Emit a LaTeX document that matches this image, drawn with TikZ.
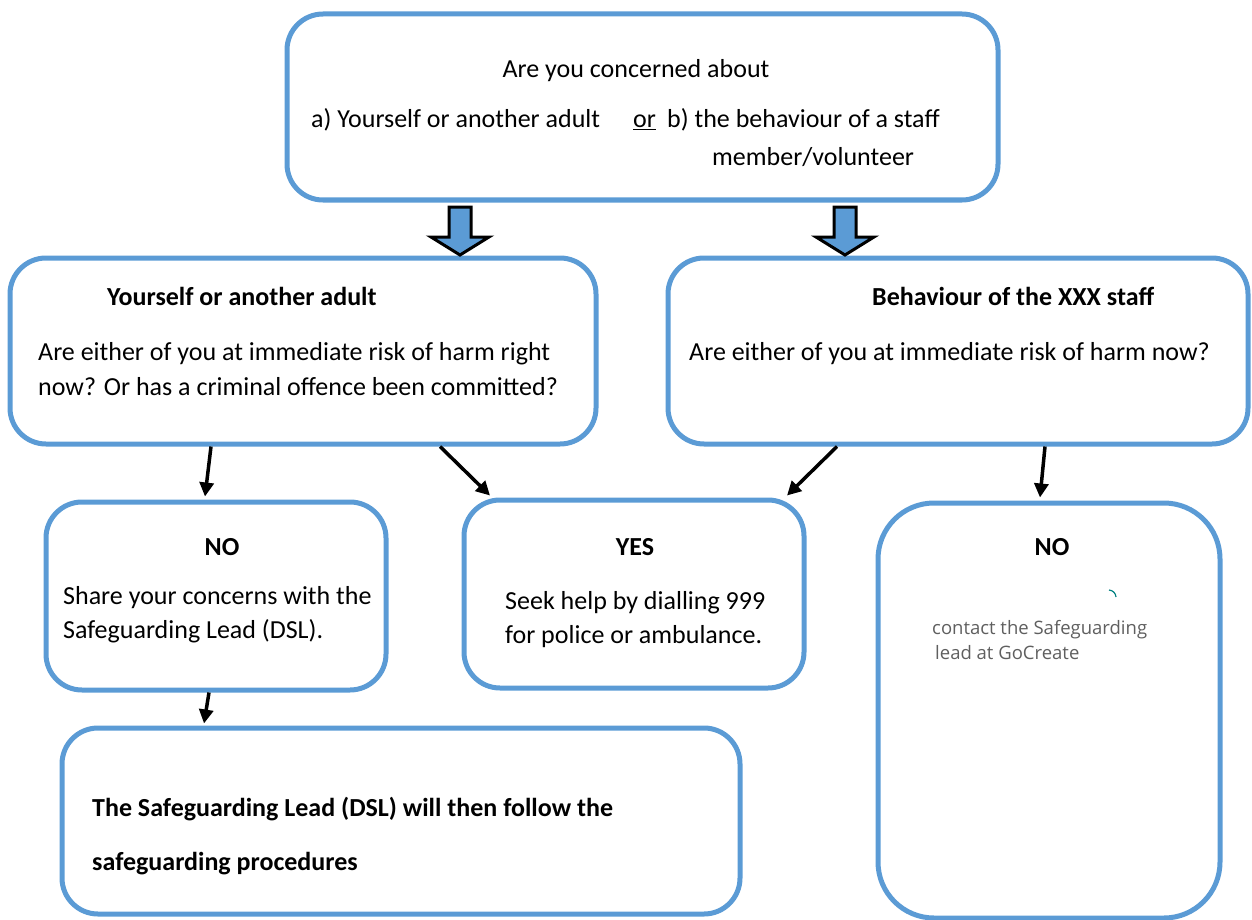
\documentclass[tikz,border=0pt]{standalone}
\usepackage{fontspec}
\setmainfont{Carlito}
\newfontfamily\smallfont{Open Sans}
\usepackage{tikz}
\usetikzlibrary{arrows.meta}
\definecolor{boxblue}{RGB}{91,155,213}
\definecolor{notegray}{RGB}{95,95,95}

\begin{document}
\begin{tikzpicture}[x=1pt,y=-1pt,
  box/.style={draw=boxblue,line width=5pt,rounded corners=36pt,inner sep=0pt},
  txt/.style={anchor=base west,inner sep=0pt,font=\fontsize{26}{30}\selectfont},
  btxt/.style={txt,font=\fontsize{26}{30}\selectfont\bfseries},
  ctxt/.style={txt,anchor=base},
  note/.style={txt,font=\smallfont\fontsize{18.5}{22}\selectfont,text=notegray},
  arr/.style={line width=3.5pt,-{Triangle[length=14pt,width=14pt]}},
  blockarr/.style={draw=black,line width=3pt,fill=boxblue,line join=miter}]
\useasboundingbox (0,0) rectangle (1252,920);

% boxes
\node [box,minimum width=711pt,minimum height=186pt] (top) at (642.5,107) {};
\node [box,minimum width=586pt,minimum height=186pt] (yours) at (303,351) {};
\node [box,minimum width=580pt,minimum height=186pt] (staff) at (958,351) {};
\node [box,minimum width=340pt,minimum height=188pt] (noa) at (216,596) {};
\node [box,minimum width=340pt,minimum height=188pt] (yes) at (634,594) {};
\node [box,minimum width=342pt,minimum height=415pt,rounded corners=56pt] (nob) at (1049,710.5) {};
\node [box,minimum width=678pt,minimum height=186pt] (dsl) at (401,821) {};

% texts
\node [ctxt] (q0) at (636,78) {Are you concerned about};
\node [txt] (q1) at (311,128) {a) Yourself or another adult};
\node [txt] (q2) at (633,128) {\underline{or}};
\node [txt] (q3) at (667,128) {b) the behaviour of a staff};
\node [txt] (q4) at (712,166) {member/volunteer};

\node [btxt] (ya) at (107,305) {Yourself or another adult};
\node [txt] (yb) at (38,360) {Are either of you at immediate risk of harm right};
\node [txt] (yc) at (38,395) {now? Or has a criminal offence been committed?};

\node [btxt] (sa) at (872,305) {Behaviour of the XXX staff};
\node [txt] (sb) at (689,360) {Are either of you at immediate risk of harm now?};

\node [btxt,anchor=base] (na) at (222,555) {NO};
\node [txt] (nb) at (63,604) {Share your concerns with the};
\node [txt] (nc) at (63,638) {Safeguarding Lead (DSL).};

\node [btxt,anchor=base] (ea) at (635,555) {YES};
\node [txt] (eb) at (505,609) {Seek help by dialling 999};
\node [txt] (ec) at (505,643) {for police or ambulance.};

\node [btxt,anchor=base] (ma) at (1052,555) {NO};
\node [note] (mb) at (932,634) {contact the Safeguarding};
\node [note] (mc) at (935,659) {lead at GoCreate};
\draw [teal,line width=1.2pt] (1109,590) to[bend left=40] (1116,597);

\node [btxt] (da) at (92,816) {The Safeguarding Lead (DSL) will then follow the};
\node [btxt] (db) at (92,870) {safeguarding procedures};

% block arrows
\draw [blockarr] (449,207) -- (471,207) -- (471,237) -- (489,237) -- (460,255) -- (431,237) -- (449,237) -- cycle;
\draw [blockarr] (834,207) -- (856,207) -- (856,237) -- (874,237) -- (845,255) -- (816,237) -- (834,237) -- cycle;

% connectors
\draw [arr] ([xshift=-92pt]yours.south) -- ([xshift=-11pt,yshift=3pt]noa.north);
\draw [arr] ([xshift=137pt]yours.south) -- ([xshift=-144pt,yshift=2pt]yes.north);
\draw [arr] ([xshift=-121pt]staff.south) -- ([xshift=153pt,yshift=2pt]yes.north);
\draw [arr] ([xshift=87pt]staff.south) -- ([xshift=-9pt,yshift=3pt]nob.north);
\draw [arr] ([xshift=-7pt]noa.south) -- ([xshift=-197pt,yshift=2pt]dsl.north);
\end{tikzpicture}
\end{document}
